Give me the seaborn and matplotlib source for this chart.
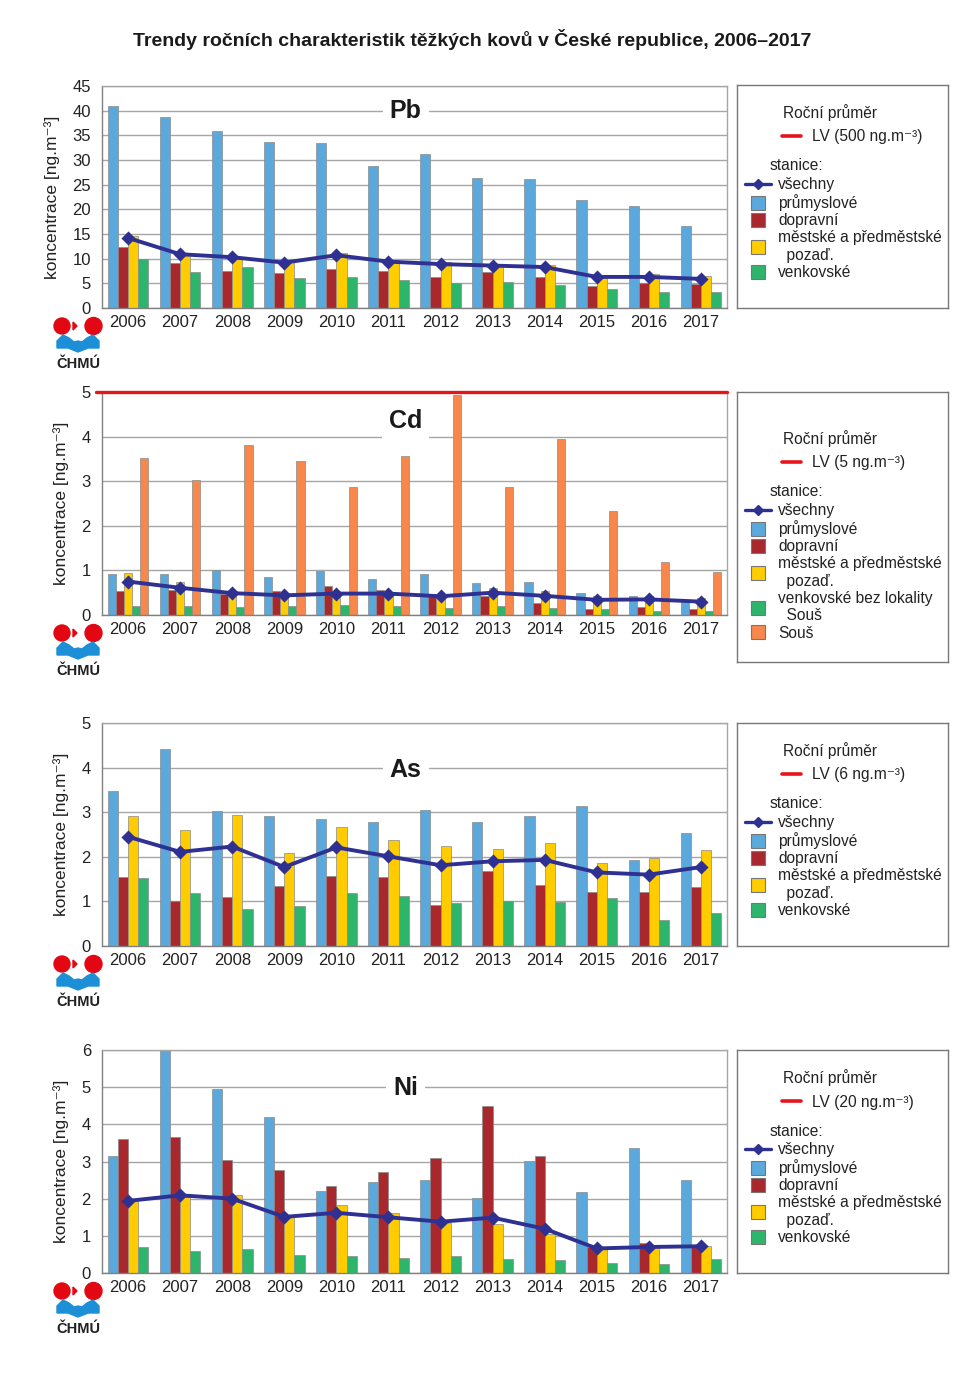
import numpy as np
import pandas as pd
import matplotlib
matplotlib.use("Agg")
import matplotlib.pyplot as plt
import seaborn as sns
from matplotlib.lines import Line2D
from matplotlib.patches import Circle, Polygon

years = [str(y) for y in range(2006, 2018)]

# Pb [ng.m-3]
pb_prumyslove = [40.9, 38.8, 35.9, 33.7, 33.5, 28.7, 31.2, 26.4, 26.2, 21.9, 20.6, 16.6]
pb_dopravni = [12.3, 9.2, 7.4, 7.0, 8.0, 7.5, 6.2, 7.2, 6.2, 4.5, 5.1, 4.9]
pb_mestske = [14.6, 10.7, 10.0, 9.5, 11.1, 9.8, 9.3, 8.5, 8.8, 6.3, 6.9, 6.5]
pb_venkovske = [9.9, 7.2, 8.4, 6.1, 6.3, 5.6, 5.1, 5.3, 4.7, 3.8, 3.2, 3.2]
pb_vsechny = [14.2, 10.9, 10.3, 9.2, 10.7, 9.4, 8.9, 8.6, 8.3, 6.3, 6.3, 5.9]

# Cd
cd_prumyslove = [0.91, 0.91, 1.0, 0.86, 0.98, 0.80, 0.93, 0.71, 0.74, 0.49, 0.43, 0.33]
cd_dopravni = [0.53, 0.56, 0.48, 0.53, 0.64, 0.55, 0.42, 0.42, 0.26, 0.14, 0.17, 0.14]
cd_mestske = [0.95, 0.73, 0.48, 0.45, 0.50, 0.48, 0.42, 0.60, 0.54, 0.42, 0.43, 0.37]
cd_venkovske = [0.21, 0.21, 0.19, 0.21, 0.22, 0.21, 0.16, 0.21, 0.16, 0.13, 0.10, 0.10]
cd_sous = [3.52, 3.03, 3.82, 3.46, 2.88, 3.56, 4.93, 2.87, 3.94, 2.33, 1.19, 0.96]
cd_vsechny = [0.75, 0.61, 0.49, 0.44, 0.48, 0.48, 0.42, 0.50, 0.43, 0.34, 0.35, 0.30]

# As
as_prumyslove = [3.48, 4.41, 3.03, 2.92, 2.85, 2.78, 3.05, 2.78, 2.91, 3.15, 1.93, 2.53]
as_dopravni = [1.55, 1.0, 1.1, 1.34, 1.58, 1.55, 0.92, 1.69, 1.37, 1.21, 1.21, 1.33]
as_mestske = [2.92, 2.59, 2.93, 2.08, 2.67, 2.37, 2.24, 2.18, 2.32, 1.87, 1.98, 2.15]
as_venkovske = [1.52, 1.18, 0.84, 0.89, 1.18, 1.12, 0.97, 1.0, 0.98, 1.08, 0.59, 0.73]
as_vsechny = [2.45, 2.11, 2.23, 1.77, 2.21, 2.01, 1.81, 1.90, 1.93, 1.65, 1.60, 1.77]

# Ni
ni_prumyslove = [3.14, 6.0, 4.94, 4.19, 2.2, 2.44, 2.5, 2.03, 3.01, 2.18, 3.37, 2.5]
ni_dopravni = [3.61, 3.67, 3.05, 2.76, 2.34, 2.71, 3.1, 4.48, 3.14, 0.7, 0.82, 0.7]
ni_mestske = [1.98, 2.05, 2.1, 1.55, 1.84, 1.61, 1.35, 1.32, 1.05, 0.65, 0.7, 0.73]
ni_venkovske = [0.7, 0.6, 0.65, 0.48, 0.46, 0.41, 0.46, 0.38, 0.35, 0.28, 0.24, 0.39]
ni_vsechny = [1.94, 2.09, 2.0, 1.51, 1.62, 1.5, 1.38, 1.49, 1.19, 0.66, 0.7, 0.72]

c_blue = "#5BA8DD"
c_red = "#A8282E"
c_yellow = "#FFCC00"
c_green = "#2DB56B"
c_orange = "#F7874B"
c_navy = "#2E3192"
c_lv = "#E8141B"
c_grid = "#A6A6A6"
c_text = "#222222"

sns.set_theme(style="white")
plt.rcParams["font.family"] = ["Liberation Sans", "DejaVu Sans"]

W, H = 976, 1385
fig = plt.figure(figsize=(W / 100, H / 100), dpi=100)

fig.text(472 / W, 1 - 39 / H,
         "Trendy ročních charakteristik těžkých kovů v České republice, 2006–2017",
         ha="center", va="center", fontsize=14, fontweight="bold", color="#1a1a1a")

panels = [
    dict(name="Pb", top=86, bottom=308, ymax=45, step=5,
         series={"průmyslové": pb_prumyslove, "dopravní": pb_dopravni,
                 "městské a předměstské\n  pozaď.": pb_mestske, "venkovské": pb_venkovske},
         colors=[c_blue, c_red, c_yellow, c_green], line=pb_vsechny, lv="LV (500 ng.m⁻³)",
         lbl_y=0.887, box=(85, 308), box_off=0, lv_line=None),
    dict(name="Cd", top=392, bottom=615, ymax=5, step=1,
         series={"průmyslové": cd_prumyslove, "dopravní": cd_dopravni,
                 "městské a předměstské\n  pozaď.": cd_mestske,
                 "venkovské bez lokality\n  Souš": cd_venkovske, "Souš": cd_sous},
         colors=[c_blue, c_red, c_yellow, c_green, c_orange], line=cd_vsechny, lv="LV (5 ng.m⁻³)",
         lbl_y=0.87, box=(392, 662), box_off=19, lv_line=5),
    dict(name="As", top=723, bottom=946, ymax=5, step=1,
         series={"průmyslové": as_prumyslove, "dopravní": as_dopravni,
                 "městské a předměstské\n  pozaď.": as_mestske, "venkovské": as_venkovske},
         colors=[c_blue, c_red, c_yellow, c_green], line=as_vsechny, lv="LV (6 ng.m⁻³)",
         lbl_y=0.789, box=(723, 946), box_off=0, lv_line=None),
    dict(name="Ni", top=1050, bottom=1273, ymax=6, step=1,
         series={"průmyslové": ni_prumyslove, "dopravní": ni_dopravni,
                 "městské a předměstské\n  pozaď.": ni_mestske, "venkovské": ni_venkovske},
         colors=[c_blue, c_red, c_yellow, c_green], line=ni_vsechny, lv="LV (20 ng.m⁻³)",
         lbl_y=0.83, box=(1050, 1273), box_off=0, lv_line=None),
]


def draw_logo(px_bottom):
    # small CHMU logo under the y axis, positions in pixels
    def to_in(x, y):
        return (x / 100, (H - y) / 100)
    t = fig.dpi_scale_trans
    y0 = px_bottom + 18
    red = "#E30613"
    fig.patches.append(Circle(to_in(62, y0), 0.08, color=red, transform=t))
    fig.patches.append(Circle(to_in(93.5, y0), 0.085, color=red, transform=t))
    fig.patches.append(Polygon([to_in(73, y0 - 4), to_in(77, y0), to_in(73, y0 + 4)],
                               color=red, transform=t))
    wave = [(57, y0 + 22), (57, y0 + 15), (63, y0 + 9), (69, y0 + 12), (74, y0 + 16),
            (78, y0 + 15), (82, y0 + 16), (87, y0 + 12), (93, y0 + 9), (99, y0 + 15),
            (99, y0 + 22), (88, y0 + 22), (78, y0 + 26), (68, y0 + 22)]
    fig.patches.append(Polygon([to_in(x, y) for x, y in wave], color="#1C8FD6", transform=t))
    fig.text(78 / W, 1 - (px_bottom + 56) / H, "ČHMÚ", ha="center", va="center",
             fontsize=10.5, fontweight="bold", color=c_text)


for p in panels:
    left, right = 102, 727
    ax = fig.add_axes([left / W, 1 - p["bottom"] / H, (right - left) / W,
                       (p["bottom"] - p["top"]) / H])
    names = list(p["series"].keys())
    df = pd.DataFrame({"rok": np.tile(years, len(names)),
                       "stanice": np.repeat(names, len(years)),
                       "hodnota": np.concatenate([p["series"][n] for n in names])})
    sns.barplot(data=df, x="rok", y="hodnota", hue="stanice", order=years, hue_order=names,
                palette=p["colors"], width=0.78, gap=0, edgecolor="#8a8a8a", linewidth=0.5,
                errorbar=None, legend=False, saturation=1, ax=ax, zorder=2)
    sns.pointplot(x=years, y=p["line"], color=c_navy, markers="D", markersize=5.5,
                  linewidth=2.8, errorbar=None, ax=ax, zorder=4)

    ax.set_xlim(-0.5, len(years) - 0.5)
    ax.set_ylim(0, p["ymax"])
    ticks = np.arange(0, p["ymax"] + 0.01, p["step"])
    ax.set_yticks(ticks)
    ax.set_yticklabels([f"{v:g}" for v in ticks])
    ax.set_xticks(range(len(years)))
    ax.set_xticklabels(years)
    ax.set_xticks(np.arange(-0.5, len(years)), minor=True)
    ax.tick_params(axis="x", which="major", length=0, labelsize=12, pad=5, colors=c_text)
    ax.tick_params(axis="x", which="minor", length=5, width=1, color="#777777", direction="out")
    ax.tick_params(axis="y", length=4, width=1, color="#777777", direction="out",
                   labelsize=12, pad=4, labelcolor=c_text)
    ax.set_xlabel("")
    ax.set_ylabel("koncentrace [ng.m⁻³]", fontsize=12.5, color=c_text, labelpad=9)
    ax.yaxis.grid(True, color=c_grid, linewidth=1)
    ax.xaxis.grid(False)
    ax.set_axisbelow(True)
    for s in ax.spines.values():
        s.set_color(c_grid)
        s.set_linewidth(1)
    ax.spines["bottom"].set_color("#808080")
    ax.spines["left"].set_color("#808080")

    if p["lv_line"] is not None:
        ax.axhline(p["lv_line"], xmin=-0.01, xmax=1, color=c_lv, linewidth=2.4,
                   clip_on=False, zorder=5)

    ax.text(0.486, p["lbl_y"], p["name"], transform=ax.transAxes, ha="center", va="center",
            fontsize=18, fontweight="bold", color="#1a1a1a", zorder=6,
            bbox=dict(facecolor="white", edgecolor="none", pad=5))

    draw_logo(p["bottom"])

    # legend box
    btop, bbot = p["box"]
    bh = bbot - btop
    lax = fig.add_axes([737 / W, 1 - bbot / H, 211 / W, bh / H])
    lax.set_xticks([])
    lax.set_yticks([])
    lax.set_facecolor("white")
    for s in lax.spines.values():
        s.set_color("#777777")
        s.set_linewidth(1)

    def fy(off):
        return 1 - (off + p["box_off"]) / bh

    fs = 11.2
    lax.text(46 / 211, fy(28), "Roční průměr", transform=lax.transAxes, ha="left",
             va="center", fontsize=fs, color=c_text)
    lv_leg = lax.legend(handles=[Line2D([], [], color=c_lv, linewidth=2.6)], labels=[p["lv"]],
                        loc="center left", bbox_to_anchor=(45 / 211, fy(52)), frameon=False,
                        borderpad=0, borderaxespad=0, handlelength=1.25, handletextpad=0.65,
                        fontsize=fs, labelcolor=c_text)
    lax.add_artist(lv_leg)
    lax.text(33 / 211, fy(81), "stanice:", transform=lax.transAxes, ha="left",
             va="center", fontsize=fs, color=c_text)
    handles = [Line2D([], [], color=c_navy, linewidth=2.4, marker="D", markersize=5)]
    labels = ["všechny"]
    for n, c in zip(names, p["colors"]):
        handles.append(Line2D([], [], linestyle="none", marker="s", markersize=10,
                              markerfacecolor=c, markeredgecolor="#777777", markeredgewidth=0.8))
        labels.append(n)
    lax.legend(handles=handles, labels=labels, loc="upper left",
               bbox_to_anchor=(8 / 211, fy(92)), frameon=False, borderpad=0, borderaxespad=0,
               handlelength=1.7, handletextpad=0.45, labelspacing=0.14, fontsize=fs,
               labelcolor=c_text)

fig.savefig("out.png", dpi=100)
